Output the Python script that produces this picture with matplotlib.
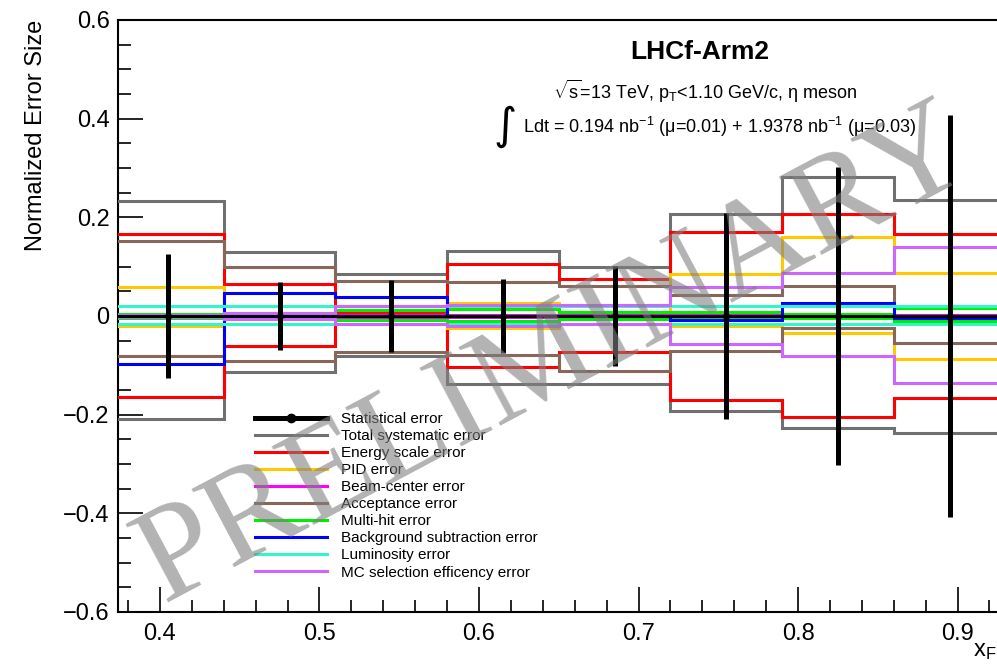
import matplotlib
matplotlib.use('Agg')
import matplotlib.pyplot as plt
import numpy as np
from matplotlib.lines import Line2D
from matplotlib.ticker import MultipleLocator, FixedLocator, FixedFormatter

plt.rcParams['font.family'] = ['Liberation Sans', 'DejaVu Sans']
plt.rcParams['mathtext.fontset'] = 'custom'
plt.rcParams['mathtext.rm'] = 'Liberation Sans'
plt.rcParams['mathtext.it'] = 'Liberation Sans:italic'
plt.rcParams['mathtext.bf'] = 'Liberation Sans:bold'

# ---------------- data ----------------
bin_edges = [0.37, 0.44, 0.51, 0.58, 0.65, 0.72, 0.79, 0.86, 0.93]
bin_centers = [0.405, 0.475, 0.545, 0.615, 0.685, 0.755, 0.825, 0.895]
stat_err = [0.125, 0.068, 0.072, 0.074, 0.102, 0.209, 0.303, 0.407]

total_up = [0.233, 0.129, 0.085, 0.131, 0.100, 0.206, 0.282, 0.236]
total_dn = [-0.209, -0.114, -0.082, -0.137, -0.137, -0.193, -0.228, -0.238]
energy_up = [0.167, 0.065, 0.008, 0.105, 0.075, 0.170, 0.207, 0.167]
energy_dn = [-0.164, -0.061, -0.008, -0.104, -0.073, -0.170, -0.205, -0.166]
pid_up = [0.058, 0.003, 0.003, 0.026, 0.003, 0.086, 0.160, 0.088]
pid_dn = [-0.021, -0.003, -0.003, -0.025, -0.003, -0.021, -0.034, -0.087]
beam_up = [0.003, 0.003, 0.003, 0.003, 0.003, 0.003, 0.003, 0.003]
beam_dn = [-0.003, -0.003, -0.003, -0.003, -0.003, -0.003, -0.003, -0.003]
accept_up = [0.152, 0.100, 0.070, 0.069, 0.060, 0.043, 0.060, 0.000]
accept_dn = [-0.081, -0.092, -0.073, -0.080, -0.112, -0.070, -0.024, -0.055]
multihit_up = [0.005, 0.006, 0.013, 0.014, 0.009, 0.008, 0.005, 0.016]
multihit_dn = [-0.005, -0.006, -0.009, -0.011, -0.006, -0.006, -0.005, -0.011]
bkg_up = [0.000, 0.046, 0.038, 0.000, 0.000, 0.000, 0.027, 0.000]
bkg_dn = [-0.097, 0.000, 0.000, 0.000, 0.000, -0.009, 0.000, -0.005]
lumi_up = [0.021, 0.021, 0.021, 0.021, 0.021, 0.021, 0.021, 0.021]
lumi_dn = [-0.017, -0.017, -0.017, -0.017, -0.017, -0.017, -0.016, -0.016]
mc_up = [0.003, 0.007, 0.021, 0.022, 0.023, 0.058, 0.087, 0.140]
mc_dn = [-0.003, -0.007, -0.016, -0.021, -0.016, -0.057, -0.082, -0.136]

labels = ["Statistical error", "Total systematic error", "Energy scale error",
          "PID error", "Beam-center error", "Acceptance error", "Multi-hit error",
          "Background subtraction error", "Luminosity error",
          "MC selection efficency error"]

yticks = [-0.6, -0.4, -0.2, 0.0, 0.2, 0.4, 0.6]
ytick_labels = ["\u22120.6", "\u22120.4", "\u22120.2", "0", "0.2", "0.4", "0.6"]
xticks = [0.4, 0.5, 0.6, 0.7, 0.8, 0.9]
xtick_labels = ["0.4", "0.5", "0.6", "0.7", "0.8", "0.9"]

# ---------------- figure ----------------
W, H = 997, 664
fig = plt.figure(figsize=(W / 100, H / 100), dpi=100)
ax = fig.add_axes([118 / W, 1 - 612 / H, 1 - 118 / W, (612 - 20) / H])
ax.set_xlim(0.37367, 0.92476)
ax.set_ylim(-0.6, 0.6)

series = [
    (total_up, total_dn, '#707070'),
    (energy_up, energy_dn, '#ff0000'),
    (pid_up, pid_dn, '#ffc800'),
    (beam_up, beam_dn, '#ff00ff'),
    (accept_up, accept_dn, '#86675a'),
    (multihit_up, multihit_dn, '#00ee00'),
    (bkg_up, bkg_dn, '#0000ff'),
    (lumi_up, lumi_dn, '#33f5cc'),
    (mc_up, mc_dn, '#cc66ff'),
]
lw = 2.2
for up, dn, c in series:
    ax.stairs(up, bin_edges, baseline=None, color=c, lw=lw, zorder=3)
    ax.stairs(dn, bin_edges, baseline=None, color=c, lw=lw, zorder=3)

ax.axhline(0, color='black', lw=2.2, zorder=4)
ax.errorbar(bin_centers, np.zeros(len(bin_centers)), yerr=stat_err, fmt='o',
            color='black', ms=4, elinewidth=3.6, capsize=0, zorder=6)

# ticks
ax.yaxis.set_major_locator(FixedLocator(yticks))
ax.yaxis.set_major_formatter(FixedFormatter(ytick_labels))
ax.yaxis.set_minor_locator(MultipleLocator(0.05))
ax.xaxis.set_major_locator(FixedLocator(xticks))
ax.xaxis.set_major_formatter(FixedFormatter(xtick_labels))
ax.xaxis.set_minor_locator(MultipleLocator(0.02))
ax.tick_params(axis='both', which='both', direction='in', color='black')
ax.tick_params(axis='y', which='major', length=18, width=1.2, labelsize=17, pad=6)
ax.tick_params(axis='y', which='minor', length=9, width=1.2)
ax.tick_params(axis='x', which='major', length=18, width=1.2, labelsize=17, pad=8)
ax.tick_params(axis='x', which='minor', length=9, width=1.2)
for s in ['left', 'bottom', 'top']:
    ax.spines[s].set_linewidth(1.5)
ax.spines['right'].set_visible(False)

# legend
handles = [Line2D([], [], color='black', lw=3.6, marker='o', ms=6)]
for up, dn, c in series:
    handles.append(Line2D([], [], color=c, lw=2.2))
leg = fig.legend(handles, labels, loc='upper left',
                 bbox_to_anchor=(255 / W, 1 - 412 / H), frameon=False,
                 fontsize=11, labelspacing=0.2, handlelength=4.7,
                 handletextpad=0.9, borderpad=0, borderaxespad=0)
leg.set_zorder(7)

# texts
fig.text(700 / W, 1 - 52 / H, "LHCf-Arm2", fontsize=19, fontweight='bold',
         ha='center', va='center')
fig.text(705 / W, 1 - 91 / H,
         r"$\sqrt{\mathrm{s}}$=13 TeV, p$_\mathrm{T}$<1.10 GeV/c, η meson",
         fontsize=13, ha='center', va='center')
fig.text(505 / W, 1 - 126 / H, "\u222b", fontsize=32, ha='center', va='center',
         family=['DejaVu Sans'])
fig.text(523 / W, 1 - 127 / H,
         r"Ldt = 0.194 nb$^{-1}$ (μ=0.01) + 1.9378 nb$^{-1}$ (μ=0.03)",
         fontsize=13, ha='left', va='center')

fig.text(36 / W, 1 - 20 / H, "Normalized Error Size", rotation=90,
         fontsize=17, ha='center', va='top')
fig.text(996 / W, 1 - 651 / H, r"x$_\mathrm{F}$", fontsize=17, ha='right',
         va='center')

# watermark
fig.text(555 / W, 1 - 358 / H, "PRELIMINARY", rotation=28, fontsize=98,
         family=['Liberation Serif'], color='#808080', alpha=0.6,
         ha='center', va='center', zorder=10)

fig.savefig('out.png', dpi=100)
